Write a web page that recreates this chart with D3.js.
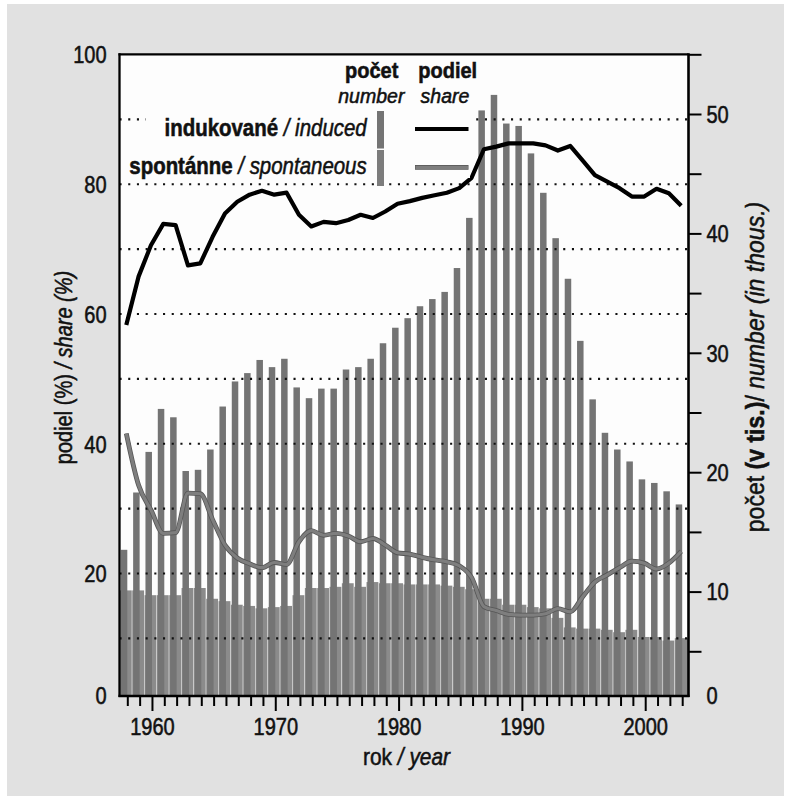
<!DOCTYPE html>
<html><head><meta charset="utf-8">
<script src="https://cdn.jsdelivr.net/npm/d3@7/dist/d3.min.js"></script>
<style>
body{margin:0;background:#fff}
svg{display:block}
text{font-family:"Liberation Sans",Arial,Helvetica,sans-serif;fill:#111;stroke:#111;stroke-width:0.55px}
</style>
</head><body>
<svg id="c" width="788" height="798"></svg>
<script>
// ---------- DATA ----------
const years = [1958,1959,1960,1961,1962,1963,1964,1965,1966,1967,1968,1969,1970,1971,1972,1973,1974,1975,1976,1977,1978,1979,1980,1981,1982,1983,1984,1985,1986,1987,1988,1989,1990,1991,1992,1993,1994,1995,1996,1997,1998,1999,2000,2001,2002,2003];
// number of induced abortions (thousands)
const inducedNum = [13.5,18.3,21.7,25.3,24.6,20.1,20.2,21.9,25.5,27.6,28.3,29.4,28.8,29.5,27.1,26.2,27.0,27.0,28.6,28.8,29.5,30.8,32.1,32.9,33.9,34.5,35.1,37.1,41.3,50.3,51.6,49.2,49.0,46.7,43.4,39.6,36.2,31.0,26.1,23.3,21.9,20.9,19.4,19.1,18.4,17.3];
// number of spontaneous abortions (thousands)
const spontNum = [10.1,10.1,9.7,9.7,9.7,10.3,10.3,9.4,9.2,8.9,8.8,8.6,8.7,8.8,9.7,10.3,10.3,10.4,10.7,10.4,10.8,10.7,10.7,10.6,10.6,10.6,10.5,10.4,10.2,9.4,9.4,8.9,8.9,8.7,8.6,7.8,7.0,6.9,6.9,6.8,6.6,6.8,6.2,6.2,5.9,6.1];
// share of induced (%)
const inducedShare = [58.3,65.8,70.6,73.9,73.7,67.5,67.8,71.9,75.5,77.3,78.4,79.0,78.4,78.7,75.3,73.5,74.2,74.0,74.5,75.3,74.8,75.8,77.0,77.4,77.9,78.3,78.7,79.4,81.0,85.4,85.8,86.3,86.3,86.3,86.0,85.2,85.9,83.7,81.4,80.4,79.4,78.1,78.1,79.3,78.6,76.7];
// share of spontaneous (%)
const spontShare = [41.6,33.6,29.8,26.2,26.3,32.4,32.3,28.3,24.4,22.4,21.5,20.9,21.7,21.4,24.9,26.6,25.9,26.2,25.8,24.9,25.4,24.4,23.2,23.0,22.5,22.1,21.8,21.2,19.4,14.9,14.3,13.7,13.6,13.6,13.8,14.6,14.1,16.4,18.7,19.8,20.9,21.9,21.6,20.7,21.6,23.4];
const leftTicks = [20,40,60,80,100];
const rightTicks = [5,10,15,20,25,30,35,40,45,50,55];
const rightLabels = [10,20,30,40,50];
const gridValues = [10,20,30,40,50,60,70,80,90];
const decadeTicks = [1960,1970,1980,1990,2000];

// ---------- LAYOUT ----------
const SX = 0.87; // condensed type
const P = {l:119.5, r:688.5, t:54.3, b:696};
const svg = d3.select("#c");

svg.append("rect").attr("x",7).attr("y",4).attr("width",777).attr("height",792).attr("fill","#e1e1e1");
svg.append("rect").attr("x",P.l).attr("y",P.t).attr("width",P.r-P.l).attr("height",P.b-P.t).attr("fill","#fdfdfd");

const x = d3.scaleLinear().domain([1958,2003]).range([127.3,682.2]);
const yL = d3.scaleLinear().domain([0,100]).range([703.3,54.5]);
const yR = d3.scaleLinear().domain([0,55]).range([711,54.3]);

svg.append("defs").append("clipPath").attr("id","pc").append("rect")
  .attr("x",P.l).attr("y",P.t).attr("width",P.r-P.l).attr("height",P.b-P.t);
const g = svg.append("g").attr("clip-path","url(#pc)");

const step = x(1959)-x(1958);
// spontaneous numbers: wide bars
g.selectAll("rect.sp").data(years).join("rect").attr("class","sp")
  .attr("x",d=>x(d)-7.4)
  .attr("width",(d,i)=> i===years.length-1 ? P.r-(x(d)-7.4) : step-0.5)
  .attr("y",(d,i)=>yR(spontNum[i]))
  .attr("height",(d,i)=>P.b-yR(spontNum[i]))
  .attr("fill","#8b8b8b");
// induced numbers: narrow bars
g.selectAll("rect.in").data(years).join("rect").attr("class","in")
  .attr("x",d=>x(d)-6.5).attr("width",6.5)
  .attr("y",(d,i)=>yR(inducedNum[i]))
  .attr("height",(d,i)=>P.b-yR(inducedNum[i]))
  .attr("fill","#747474");

// dotted gridlines
g.selectAll("line.grid").data(gridValues).join("line").attr("class","grid")
  .attr("x1",P.l).attr("x2",P.r).attr("y1",d=>yL(d)).attr("y2",d=>yL(d))
  .attr("stroke","#111").attr("stroke-width",2.1).attr("stroke-dasharray","2.1 6.6");

// legend background
svg.append("rect").attr("x",146).attr("y",57).attr("width",324).attr("height",121).attr("fill","#fdfdfd");

// share lines
const lx = d => x(d)-1;
const lineI = d3.line().x((d,i)=>lx(years[i])).y(d=>yL(d)).curve(d3.curveLinear);
const lineS = d3.line().x((d,i)=>lx(years[i])).y(d=>yL(d)).curve(d3.curveMonotoneX);
g.append("path").attr("d",lineS(spontShare)).attr("fill","none").attr("stroke","#565656").attr("stroke-width",4.8).attr("stroke-linejoin","round");
g.append("path").attr("d",lineS(spontShare)).attr("fill","none").attr("stroke","#7e7e7e").attr("stroke-width",3.2).attr("stroke-linejoin","round");
g.append("path").attr("d",lineI(inducedShare)).attr("fill","none").attr("stroke","#000").attr("stroke-width",4.2).attr("stroke-linejoin","round");

// ---------- AXES ----------
svg.append("line").attr("x1",P.l).attr("x2",P.l).attr("y1",P.t-1).attr("y2",P.b+1).attr("stroke","#000").attr("stroke-width",2.3);
svg.append("line").attr("x1",P.l-1).attr("x2",P.r).attr("y1",P.t).attr("y2",P.t).attr("stroke","#000").attr("stroke-width",2.3);

// bottom axis
const ax = svg.append("g").attr("transform",`translate(0,${P.b})`)
  .call(d3.axisBottom(x).tickValues(years).tickSize(10).tickSizeOuter(0)
    .tickFormat(d=> decadeTicks.includes(d) ? String(d) : ""));
ax.select(".domain").attr("d",`M${P.l-1},0H${P.r+1}`).attr("stroke","#000").attr("stroke-width",2.6);
ax.selectAll(".tick line").attr("stroke","#000").attr("stroke-width",2)
  .attr("y2",d=> decadeTicks.includes(d) ? 15 : 10);
ax.selectAll(".tick text").attr("font-size",23).attr("fill","#111").attr("y",23)
  .attr("font-family","Liberation Sans, Arial, sans-serif")
  .attr("transform",`scale(${SX},1)`);

// left axis
const al = svg.append("g").attr("transform",`translate(${P.l},0)`)
  .call(d3.axisLeft(yL).tickValues(leftTicks).tickSize(0).tickSizeOuter(0));
al.select(".domain").remove();
al.selectAll(".tick text").attr("font-size",23).attr("fill","#111")
  .attr("font-family","Liberation Sans, Arial, sans-serif")
  .attr("x",-13/SX).attr("dy","0.36em").attr("transform",`scale(${SX},1)`);
svg.append("text").attr("transform",`translate(${P.l-13},${P.b}) scale(${SX},1)`)
  .attr("text-anchor","end").attr("dy","0.36em").attr("font-size",23).text("0");

// right axis
const ar = svg.append("g").attr("transform",`translate(${P.r},0)`)
  .call(d3.axisRight(yR).tickValues(rightTicks).tickSize(13).tickSizeOuter(0)
    .tickFormat(d=> rightLabels.includes(d) ? String(d) : ""));
ar.select(".domain").attr("d",`M0,${P.t-1}V${P.b+1}`).attr("stroke","#000").attr("stroke-width",2.6);
ar.selectAll(".tick line").attr("stroke","#000").attr("stroke-width",2);
ar.selectAll(".tick text").attr("font-size",23).attr("fill","#111")
  .attr("font-family","Liberation Sans, Arial, sans-serif")
  .attr("x",18/SX).attr("dy","0.36em").attr("transform",`scale(${SX},1)`);
svg.append("text").attr("transform",`translate(${P.r+18},${P.b}) scale(${SX},1)`)
  .attr("text-anchor","start").attr("dy","0.36em").attr("font-size",23).text("0");

// ---------- TEXT helper ----------
function label(x0,y0,parts,opt){
  const t = svg.append("text")
    .attr("transform",`translate(${x0},${y0})${opt.rot?" rotate(-90)":""} scale(${opt.sx||SX},1)`)
    .attr("text-anchor",opt.anchor||"start").attr("font-size",opt.size||23);
  parts.forEach(p=>{
    const ts = t.append("tspan").text(p[0]);
    if(p[1].includes("b")) ts.attr("font-weight","bold");
    if(p[1].includes("i")) ts.attr("font-style","italic");
  });
  return t;
}

// axis titles
label(406.5,765,[["rok ","n"],["/ year","i"]],{anchor:"middle",size:24});
label(71.5,367.5,[["podiel (%) ","n"],["/ share (%)","i"]],{anchor:"middle",rot:true,size:23});
label(764,367,[["počet ","n"],["(v tis.)","b"],["/ ","n"],["number (in thous.)","i"]],{anchor:"middle",rot:true,size:26.5});

// legend
label(371.7,78,[["počet","b"]],{anchor:"middle",size:21.5,sx:0.93});
label(447.7,78,[["podiel","b"]],{anchor:"middle",size:21.5,sx:0.93});
label(371.3,103.3,[["number","i"]],{anchor:"middle",size:21,sx:0.93});
label(445,103.3,[["share","i"]],{anchor:"middle",size:21,sx:0.93});
label(366.7,136,[["indukované ","b"],["/ induced","i"]],{anchor:"end",size:23.5});
label(366.7,173.5,[["spontánne ","b"],["/ spontaneous","i"]],{anchor:"end",size:23.5});

svg.append("rect").attr("x",377).attr("y",111).attr("width",7).attr("height",37.5).attr("fill","#747474");
svg.append("rect").attr("x",377).attr("y",150).attr("width",7).attr("height",36).attr("fill","#7c7c7c");
svg.append("line").attr("x1",415).attr("x2",468.5).attr("y1",129).attr("y2",129).attr("stroke","#000").attr("stroke-width",4.2);
svg.append("line").attr("x1",415).attr("x2",468.5).attr("y1",167.3).attr("y2",167.3).attr("stroke","#565656").attr("stroke-width",4.8);
svg.append("line").attr("x1",415.5).attr("x2",468).attr("y1",167.3).attr("y2",167.3).attr("stroke","#7e7e7e").attr("stroke-width",3.2);
</script>
</body></html>
